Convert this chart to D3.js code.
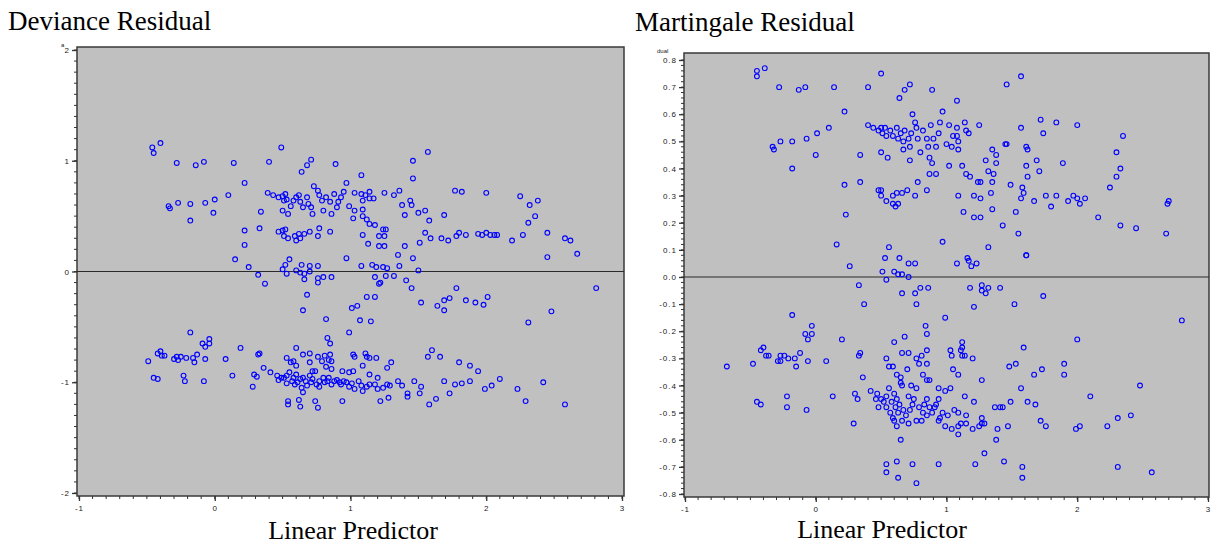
<!DOCTYPE html>
<html>
<head>
<meta charset="utf-8">
<script src="https://cdn.jsdelivr.net/npm/d3@7"></script>
<style>
  body { margin: 0; background: #fff; }
  .tick-label { font-family: "Liberation Sans", Arial, sans-serif; font-size: 8px; letter-spacing: 1px; fill: #222; }
  .title { font-family: "Liberation Serif", "Times New Roman", serif; fill: #000; }
</style>
</head>
<body>
<div id="chart"></div>
<script>
// tick values
var xTicks = [-1, 0, 1, 2, 3];
var devYTicks = [-2, -1, 0, 1, 2];
var martYTicks = [-0.8, -0.7, -0.6, -0.5, -0.4, -0.3, -0.2, -0.1, 0, 0.1, 0.2, 0.3, 0.4, 0.5, 0.6, 0.7, 0.8];

// deviance residual vs linear predictor
var devPoints = [
  [-0.46,1.12],[-0.45,1.07],[-0.40,1.16],[-0.28,0.98],[-0.14,0.96],[-0.08,0.99],[0.14,0.98],[0.40,0.99],
  [0.49,1.12],[0.64,0.90],[0.68,0.96],[0.71,1.01],[0.89,0.97],[1.08,0.87],[0.22,0.80],[0.10,0.69],
  [0.00,0.65],[-0.07,0.62],[-0.18,0.61],[-0.27,0.62],[-0.34,0.59],[-0.33,0.57],[-0.01,0.53],[-0.18,0.46],
  [0.34,0.54],[0.22,0.37],[0.33,0.39],[0.22,0.24],[0.15,0.11],[0.25,0.04],[0.32,-0.03],[0.37,-0.11],
  [0.68,-0.21],[1.12,-0.23],
  [0.39,0.71],[0.43,0.69],[0.47,0.67],[0.50,0.68],[0.52,0.70],[0.51,0.64],[0.53,0.65],[0.56,0.59],
  [0.58,0.64],[0.60,0.67],[0.62,0.69],[0.63,0.63],[0.65,0.58],[0.68,0.67],[0.69,0.61],[0.71,0.58],
  [0.72,0.52],[0.73,0.77],[0.76,0.73],[0.77,0.69],[0.79,0.64],[0.80,0.55],[0.82,0.67],[0.85,0.63],
  [0.86,0.52],[0.88,0.70],[0.90,0.58],[0.91,0.63],[0.93,0.67],[0.95,0.72],[0.97,0.80],[0.99,0.59],
  [1.03,0.71],[1.03,0.55],[1.08,0.70],[1.09,0.64],[1.09,0.56],[1.11,0.69],[1.14,0.72],[1.14,0.66],
  [1.17,0.66],[1.25,0.71],[0.50,0.55],[0.54,0.52],[1.02,0.48],[1.09,0.50],[1.12,0.47],[1.14,0.43],
  [1.18,0.42],[1.24,0.38],[1.26,0.38],
  [0.47,0.36],[0.50,0.37],[0.51,0.32],[0.52,0.38],[0.54,0.30],[0.59,0.32],[0.60,0.28],[0.62,0.34],
  [0.63,0.30],[0.66,0.34],[0.70,0.36],[0.76,0.32],[0.77,0.39],[0.85,0.36],[1.09,0.33],[1.13,0.25],
  [1.21,0.23],[1.21,0.32],[1.25,0.32],[1.25,0.23],
  [0.55,0.11],[0.52,0.06],[0.50,0.02],[0.53,-0.02],[0.60,0.01],[0.63,-0.01],[0.64,0.06],[0.66,-0.02],
  [0.70,0.05],[0.70,0.00],[0.76,0.05],[0.76,-0.06],[0.80,-0.05],[0.86,-0.05],[0.97,0.12],[1.08,0.05],
  [1.16,0.06],[1.19,0.04],[1.24,0.04],[1.18,-0.05],[1.26,-0.04],[1.21,-0.11],[0.66,-0.07],[0.76,-0.10],
  [0.65,-0.35],[1.05,-0.31],[0.82,-0.43],[1.15,-0.45],[0.99,-0.55],[-0.18,-0.55],[-0.04,-0.61],[-0.09,-0.65],
  [-0.04,-0.65],[-0.07,-0.68],[0.19,-0.69],[0.83,-0.60],[0.85,-0.65],[0.60,-0.69],[-0.49,-0.81],[-0.42,-0.74],
  [-0.40,-0.72],[-0.39,-0.76],[-0.37,-0.76],[-0.30,-0.79],[-0.28,-0.77],[-0.27,-0.80],[-0.25,-0.77],[-0.21,-0.78],
  [-0.16,-0.78],[-0.15,-0.82],[-0.13,-0.75],[-0.07,-0.79],[0.08,-0.79],[0.32,-0.75],[0.33,-0.74],[0.36,-0.87],
  [0.41,-0.91],[-0.45,-0.96],[-0.42,-0.97],[-0.23,-0.94],[-0.22,-0.99],[-0.08,-0.99],[0.13,-0.94],[0.29,-0.93],
  [0.31,-0.95],[0.28,-1.04],[0.53,-0.78],[0.56,-0.82],[0.58,-0.81],[0.60,-0.85],[0.65,-0.75],[0.70,-0.74],
  [0.70,-0.82],[0.72,-0.90],[0.76,-0.77],[0.79,-0.81],[0.81,-0.76],[0.82,-0.86],[0.84,-0.80],[0.85,-0.75],
  [0.86,-0.81],[0.86,-0.88],[0.94,-0.90],[0.99,-0.91],[1.02,-0.90],[1.02,-0.75],[1.03,-0.77],[1.11,-0.74],
  [1.12,-0.77],[1.14,-0.78],[1.19,-0.78],[1.09,-0.85],[1.14,-0.93],[1.20,-0.96],[1.27,-0.87],
  [0.46,-0.94],[0.47,-0.98],[0.49,-0.96],[0.51,-0.96],[0.53,-0.94],[0.53,-1.01],[0.55,-0.91],[0.57,-0.99],
  [0.58,-0.96],[0.59,-1.02],[0.60,-0.93],[0.61,-1.00],[0.63,-0.97],[0.64,-1.05],[0.65,-1.09],[0.65,-0.96],
  [0.67,-0.99],[0.68,-1.03],[0.70,-0.94],[0.71,-1.00],[0.72,-0.97],[0.74,-0.90],[0.75,-1.02],[0.77,-0.99],
  [0.77,-1.04],[0.80,-0.96],[0.81,-1.00],[0.83,-0.99],[0.84,-0.96],[0.86,-1.02],[0.88,-0.99],[0.90,-0.98],
  [0.92,-1.00],[0.93,-1.02],[0.95,-0.99],[0.97,-1.00],[0.99,-1.04],[1.01,-1.01],[1.03,-1.06],[1.06,-0.99],
  [1.08,-1.03],[1.09,-1.08],[1.12,-1.04],[1.14,-1.02],[1.18,-1.02],[1.20,-1.06],[1.24,-1.05],[1.27,-1.02],
  [1.29,-1.03],[1.28,-1.14],[1.22,-1.17],[0.94,-1.17],[0.74,-1.17],[0.76,-1.23],[0.63,-1.22],[0.62,-1.16],
  [0.54,-1.17],[0.54,-1.20],
  [1.57,1.08],[1.46,1.00],[1.32,0.69],[1.36,0.73],[1.44,0.64],[1.46,0.84],[1.38,0.60],[1.40,0.51],
  [1.45,0.60],[1.50,0.53],[1.55,0.55],[1.58,0.46],[1.69,0.51],[1.77,0.73],[1.82,0.72],[2.00,0.71],
  [2.25,0.68],[2.32,0.60],[2.31,0.44],[2.36,0.50],[2.38,0.64],[2.45,0.35],[2.45,0.13],[2.58,0.30],
  [2.62,0.28],[2.67,0.16],[2.81,-0.15],[2.31,-0.46],[2.48,-0.36],[2.01,-0.23],[1.98,-0.30],
  [1.55,0.35],[1.59,0.30],[1.67,0.30],[1.72,0.28],[1.78,0.32],[1.80,0.35],[1.85,0.33],[1.94,0.34],
  [1.97,0.33],[2.00,0.35],[2.03,0.33],[2.06,0.33],[2.08,0.33],[2.19,0.28],[2.27,0.33],
  [1.40,0.23],[1.46,0.12],[1.50,0.01],[1.35,0.15],[1.36,0.05],[1.51,0.26],[1.73,-0.24],[1.78,-0.15],
  [1.85,-0.26],[1.92,-0.28],[1.69,-0.26],[1.69,-0.35],[1.22,-0.10],[1.27,0.03],[1.32,-0.04],[1.41,-0.08],
  [1.45,-0.15],[1.52,-0.28],[1.64,-0.31],[1.18,-0.23],[1.07,-0.44],[1.01,-0.33],
  [1.30,-0.82],[1.35,-0.99],[1.38,-1.03],[1.42,-1.10],[1.47,-0.99],[1.52,-1.04],[1.57,-0.77],[1.60,-0.71],
  [1.66,-0.77],[1.69,-0.99],[1.73,-1.10],[1.77,-1.02],[1.82,-1.01],[1.88,-0.99],[1.94,-0.90],[1.99,-1.06],
  [2.04,-1.03],[2.10,-0.97],[2.29,-1.17],[1.58,-1.20],[1.63,-1.15],[1.42,-1.13],[1.51,-1.10],[1.80,-0.82],
  [1.88,-0.85],[2.42,-1.00],[2.58,-1.20],[2.23,-1.06]
];

// martingale residual vs linear predictor
var martPoints = [
  [-0.45,0.76],[-0.45,0.74],[-0.39,0.77],[-0.28,0.70],[-0.13,0.69],[-0.08,0.70],[0.14,0.70],[0.40,0.70],
  [0.50,0.75],[0.64,0.66],[0.68,0.69],[0.72,0.71],[0.89,0.69],[1.08,0.65],[1.46,0.71],[1.57,0.74],
  [0.22,0.61],[0.10,0.55],[0.01,0.53],[-0.07,0.51],[-0.18,0.50],[-0.27,0.50],[-0.33,0.48],[-0.32,0.47],
  [0.00,0.45],[-0.18,0.40],[0.34,0.45],[0.22,0.34],[0.34,0.35],[0.23,0.23],[0.16,0.12],[0.26,0.04],
  [0.56,0.11],[0.53,0.07],[0.64,0.07],[0.71,0.05],[0.76,0.05],[0.51,0.02],[0.60,0.02],[0.63,0.01],
  [0.66,0.01],[0.71,0.00],[0.97,0.13],[1.08,0.05],[1.16,0.07],[1.17,0.06],[1.19,0.04],[1.23,0.05],
  [1.32,0.11],[1.61,0.08],
  [0.40,0.56],[0.44,0.55],[0.48,0.54],[0.50,0.55],[0.53,0.55],[0.51,0.53],[0.54,0.52],[0.57,0.54],
  [0.59,0.52],[0.62,0.55],[0.63,0.51],[0.65,0.53],[0.67,0.50],[0.68,0.54],[0.71,0.51],[0.72,0.48],
  [0.73,0.53],[0.74,0.60],[0.76,0.57],[0.77,0.55],[0.78,0.51],[0.80,0.46],[0.82,0.54],[0.85,0.51],
  [0.86,0.48],[0.88,0.56],[0.90,0.51],[0.92,0.48],[0.94,0.53],[0.95,0.57],[0.97,0.61],[1.00,0.49],
  [1.02,0.56],[1.04,0.48],[1.05,0.52],[1.08,0.52],[1.09,0.50],[1.08,0.55],[1.14,0.57],[1.15,0.54],
  [1.17,0.53],[1.25,0.56],[0.50,0.46],[0.55,0.44],[0.67,0.47],[0.72,0.43],[0.87,0.44],[0.89,0.42],
  [1.02,0.41],[1.09,0.47],[1.12,0.41],[1.15,0.38],[1.18,0.37],[0.87,0.38],[0.92,0.38],[1.35,0.47],
  [1.38,0.45],[1.30,0.43],[1.38,0.42],[1.32,0.39],[1.36,0.38],[1.24,0.35],[1.26,0.35],[1.35,0.35],
  [1.49,0.34],[1.58,0.33],[1.59,0.31],[1.57,0.29],[1.46,0.49],[1.45,0.49],[1.57,0.55],[1.62,0.47],
  [1.61,0.41],[1.62,0.37],
  [0.48,0.32],[0.50,0.32],[0.50,0.30],[0.54,0.28],[0.59,0.30],[0.62,0.31],[0.66,0.31],[0.70,0.32],
  [0.78,0.35],[0.76,0.30],[0.85,0.32],[0.59,0.27],[0.63,0.27],[0.61,0.26],[1.09,0.30],[1.21,0.30],
  [1.26,0.29],[1.34,0.31],[1.13,0.24],[1.21,0.22],[1.26,0.22],[1.35,0.25],[1.43,0.19],[1.53,0.24],
  [1.55,0.16],
  [0.33,-0.03],[0.54,-0.01],[0.66,-0.06],[0.76,-0.06],[0.80,-0.04],[0.86,-0.04],[0.77,-0.10],[0.37,-0.10],
  [1.18,-0.04],[1.27,-0.03],[1.27,-0.05],[1.32,-0.04],[1.30,-0.06],[1.21,-0.11],[1.52,-0.10],[0.99,-0.15],
  [-0.18,-0.14],[-0.03,-0.18],[-0.08,-0.21],[-0.03,-0.21],[-0.06,-0.23],[0.20,-0.23],[-0.40,-0.26],[-0.42,-0.27],
  [-0.38,-0.29],[-0.36,-0.29],[-0.48,-0.32],[-0.29,-0.31],[-0.27,-0.31],[-0.27,-0.29],[-0.24,-0.29],[-0.21,-0.30],
  [-0.16,-0.30],[-0.12,-0.28],[-0.15,-0.33],[-0.06,-0.31],[0.08,-0.31],[0.33,-0.29],[0.34,-0.28],[0.36,-0.37],
  [-0.45,-0.46],[-0.42,-0.47],[-0.22,-0.44],[-0.22,-0.48],[-0.07,-0.49],[0.13,-0.44],[0.30,-0.43],[0.32,-0.45],
  [0.29,-0.54],[0.84,-0.18],[0.85,-0.21],[0.68,-0.22],[0.60,-0.24],[0.66,-0.28],[0.71,-0.28],[0.54,-0.30],
  [0.56,-0.33],[0.59,-0.33],[0.62,-0.36],[0.65,-0.37],[0.65,-0.39],[0.66,-0.40],[0.70,-0.34],[0.77,-0.30],
  [0.79,-0.32],[0.81,-0.29],[0.85,-0.27],[0.85,-0.32],[0.82,-0.36],[0.85,-0.38],[0.87,-0.38],[0.73,-0.40],
  [0.77,-0.41],[0.94,-0.41],[0.99,-0.42],[1.03,-0.41],[1.03,-0.27],[1.04,-0.29],[1.05,-0.34],[1.09,-0.36],
  [1.12,-0.24],[1.12,-0.26],[1.11,-0.27],[1.12,-0.29],[1.14,-0.29],[1.20,-0.30],[1.27,-0.38],[1.59,-0.26],
  [1.53,-0.32],[1.48,-0.33],[1.57,-0.41],[1.14,-0.44],[1.21,-0.46],[1.37,-0.48],[1.41,-0.48],[1.43,-0.48],
  [1.49,-0.46],[1.62,-0.46],
  [0.42,-0.42],[0.47,-0.43],[0.46,-0.45],[0.48,-0.48],[0.50,-0.45],[0.52,-0.46],[0.54,-0.44],[0.54,-0.48],
  [0.56,-0.41],[0.57,-0.50],[0.58,-0.46],[0.59,-0.52],[0.60,-0.53],[0.60,-0.43],[0.61,-0.48],[0.62,-0.45],
  [0.62,-0.55],[0.63,-0.50],[0.64,-0.47],[0.66,-0.53],[0.67,-0.49],[0.69,-0.51],[0.71,-0.44],[0.71,-0.54],
  [0.72,-0.49],[0.74,-0.47],[0.75,-0.45],[0.77,-0.53],[0.79,-0.48],[0.81,-0.53],[0.82,-0.50],[0.83,-0.47],
  [0.85,-0.45],[0.85,-0.51],[0.87,-0.48],[0.89,-0.50],[0.91,-0.48],[0.92,-0.47],[0.94,-0.45],[0.94,-0.53],
  [0.95,-0.52],[0.97,-0.50],[0.99,-0.55],[1.01,-0.51],[1.04,-0.56],[1.06,-0.49],[1.09,-0.50],[1.09,-0.55],
  [1.09,-0.58],[1.11,-0.54],[1.15,-0.51],[1.15,-0.54],[1.20,-0.56],[1.25,-0.55],[1.27,-0.52],[1.27,-0.54],
  [1.29,-0.54],[1.39,-0.56],[1.38,-0.60],[1.47,-0.55],[0.65,-0.60],
  [0.54,-0.69],[0.54,-0.72],[0.62,-0.68],[0.63,-0.74],[0.74,-0.69],[0.77,-0.76],[0.94,-0.69],[1.22,-0.69],
  [1.29,-0.65],[1.44,-0.68],[1.58,-0.70],[1.58,-0.74],
  [1.72,0.58],[1.74,0.53],[1.84,0.57],[2.00,0.56],[1.69,0.43],[1.89,0.42],[1.61,0.48],[1.71,0.39],
  [1.76,0.30],[1.84,0.30],[1.97,0.30],[2.00,0.29],[2.06,0.29],[1.93,0.28],[2.02,0.27],[1.80,0.26],
  [1.67,0.28],[2.16,0.22],[2.25,0.33],[2.30,0.37],[2.33,0.40],[2.30,0.46],[2.35,0.52],[2.33,0.19],
  [2.45,0.18],[2.70,0.28],[2.69,0.27],[2.68,0.16],[1.61,0.08],[1.74,-0.07],[1.41,-0.04],[2.80,-0.16],
  [2.00,-0.23],[1.90,-0.32],[1.90,-0.36],[2.10,-0.44],[2.48,-0.40],[1.73,-0.34],[1.67,-0.36],[1.72,-0.53],
  [1.76,-0.55],[2.02,-0.55],[1.99,-0.56],[2.23,-0.55],[2.31,-0.52],[2.41,-0.51],[2.31,-0.70],[2.57,-0.72],
  [1.68,-0.47],[-0.68,-0.33]
];

var svg = d3.select("#chart").append("svg")
  .attr("width", 1211)
  .attr("height", 546);

// plain hyphen instead of d3's unicode minus
var intFmt = d => d3.format("d")(d).replace("\u2212", "-");
var decFmt = d => d3.format(".1f")(d).replace("\u2212", "-");

var drawPanel = function(cfg) {
  var xScale = d3.scaleLinear().domain([-1, 3]).range(cfg.xRange);
  var yScale = d3.scaleLinear().domain(cfg.yDomain).range(cfg.yRange);
  var g = svg.append("g");

  // plot area
  g.append("rect")
    .attr("x", cfg.frame[0])
    .attr("y", cfg.frame[1])
    .attr("width", cfg.frame[2] - cfg.frame[0])
    .attr("height", cfg.frame[3] - cfg.frame[1])
    .attr("fill", "#c0c0c0")
    .attr("stroke", "#3a3a3a")
    .attr("stroke-width", 1.5);

  // zero reference line
  g.append("line")
    .attr("x1", cfg.frame[0]).attr("x2", cfg.frame[2])
    .attr("y1", yScale(0)).attr("y2", yScale(0))
    .attr("stroke", "#2a2a2a")
    .attr("stroke-width", 1.2);

  // minor ticks
  var xMinor = d3.range(-10, 31).map(d => d / 10);
  var yMinor = d3.range(Math.round(cfg.yDomain[0] / cfg.yMinorStep), Math.round(cfg.yDomain[1] / cfg.yMinorStep) + 1)
    .map(d => d * cfg.yMinorStep);

  g.selectAll(".xminor")
    .data(xMinor)
    .enter().append("line")
      .attr("x1", d => xScale(d)).attr("x2", d => xScale(d))
      .attr("y1", cfg.frame[3]).attr("y2", cfg.frame[3] + 3)
      .attr("stroke", "#333").attr("stroke-width", 1);

  g.selectAll(".yminor")
    .data(yMinor)
    .enter().append("line")
      .attr("x1", cfg.frame[0] - 3).attr("x2", cfg.frame[0])
      .attr("y1", d => yScale(d)).attr("y2", d => yScale(d))
      .attr("stroke", "#333").attr("stroke-width", 1);

  // x axis
  var xAxis = d3.axisBottom(xScale)
    .tickValues(xTicks)
    .tickSize(5)
    .tickPadding(4)
    .tickFormat(intFmt);
  var xg = g.append("g")
    .attr("transform", "translate(0," + cfg.frame[3] + ")")
    .call(xAxis);
  xg.select(".domain").remove();
  xg.selectAll("line").attr("stroke", "#333").attr("stroke-width", 1.3);
  xg.selectAll("text").attr("class", "tick-label").attr("font-family", null).attr("font-size", null).attr("fill", null);

  // y axis
  var yAxis = d3.axisLeft(yScale)
    .tickValues(cfg.yTicks)
    .tickSize(5)
    .tickPadding(2)
    .tickFormat(cfg.yFmt);
  var yg = g.append("g")
    .attr("transform", "translate(" + cfg.frame[0] + ",0)")
    .call(yAxis);
  yg.select(".domain").remove();
  yg.selectAll("line").attr("stroke", "#333").attr("stroke-width", 1.3);
  yg.selectAll("text").attr("class", "tick-label").attr("font-family", null).attr("font-size", null).attr("fill", null);

  // clipped axis label stub
  g.append("text")
    .attr("class", "tick-label")
    .attr("x", cfg.stub[0]).attr("y", cfg.stub[1])
    .style("font-size", "6px")
    .style("letter-spacing", "0px")
    .text(cfg.stubText);

  // points
  g.selectAll(".pt")
    .data(cfg.points)
    .enter().append("circle")
      .attr("cx", d => xScale(d[0]))
      .attr("cy", d => yScale(d[1]))
      .attr("r", 2.4)
      .attr("fill", "none")
      .attr("stroke", "#0000ff")
      .attr("stroke-width", 1.1);

  // titles
  g.append("text")
    .attr("class", "title")
    .attr("x", cfg.title[0]).attr("y", cfg.title[1])
    .style("font-size", "27px")
    .text(cfg.titleText);

  g.append("text")
    .attr("class", "title")
    .attr("x", cfg.xLabel[0]).attr("y", cfg.xLabel[1])
    .attr("text-anchor", "middle")
    .style("font-size", "26px")
    .text("Linear Predictor");
};

drawPanel({
  points: devPoints,
  xRange: [79, 622],
  yDomain: [-2, 2],
  yRange: [493, 50],
  yTicks: devYTicks,
  yFmt: intFmt,
  yMinorStep: 0.1,
  frame: [77, 47, 624, 496],
  stub: [61, 47],
  stubText: "a",
  title: [8, 30],
  titleText: "Deviance Residual",
  xLabel: [353, 539]
});

drawPanel({
  points: martPoints,
  xRange: [685, 1208],
  yDomain: [-0.8, 0.8],
  yRange: [494, 60],
  yTicks: martYTicks,
  yFmt: decFmt,
  yMinorStep: 0.02,
  frame: [684, 53, 1209, 497],
  stub: [657, 53],
  stubText: "dual",
  title: [635, 31],
  titleText: "Martingale Residual",
  xLabel: [882, 538]
});
</script>
</body>
</html>
